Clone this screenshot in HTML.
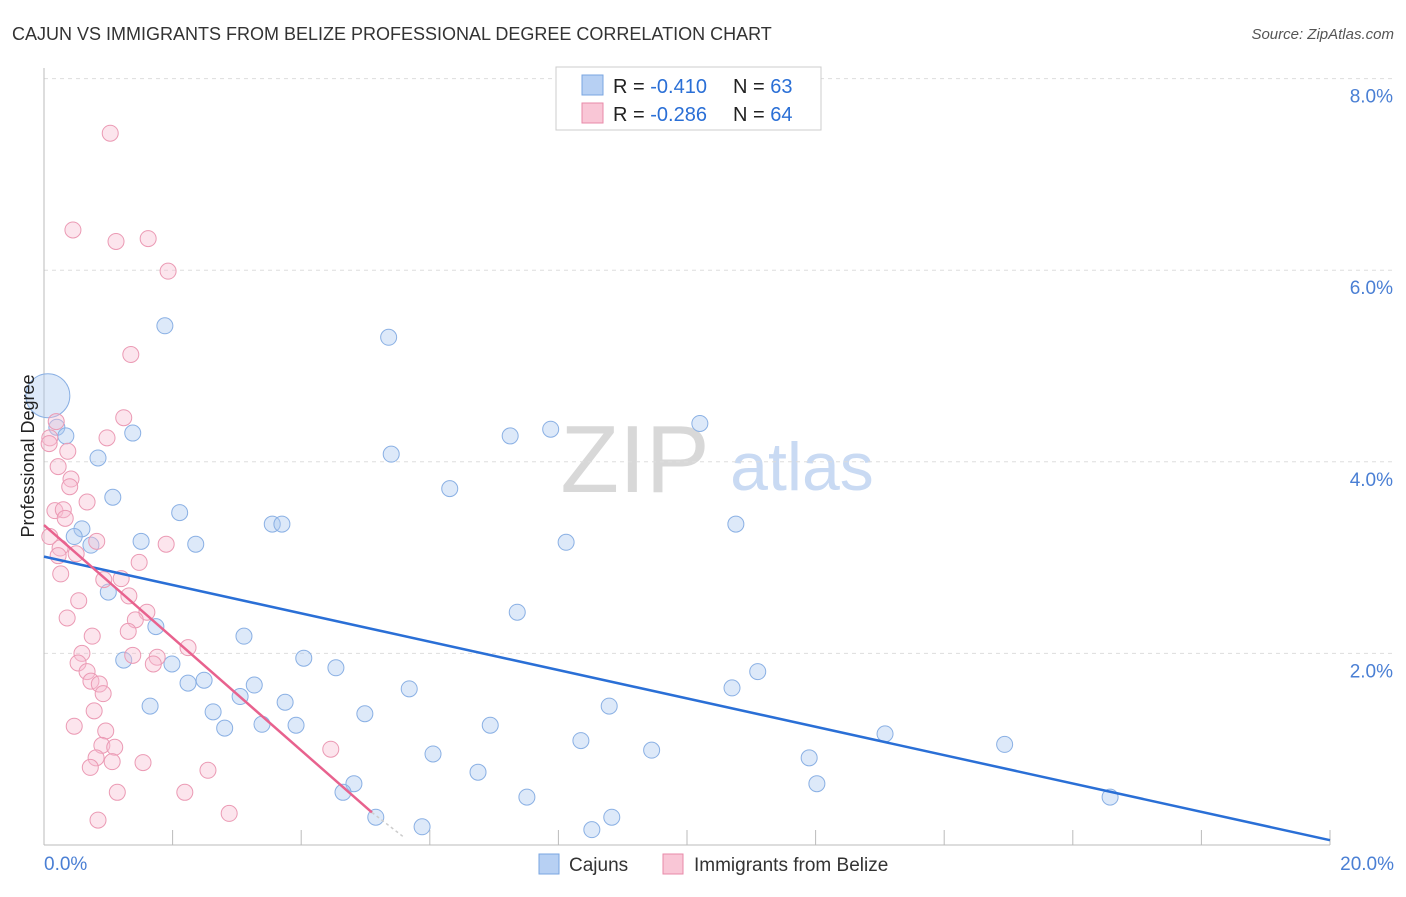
<!DOCTYPE html>
<html><head><meta charset="utf-8"><style>
body{margin:0;background:#fff;font-family:"Liberation Sans",sans-serif}
svg text{font-family:"Liberation Sans",sans-serif}
</style></head><body>
<svg id="chart" width="1406" height="892" xmlns="http://www.w3.org/2000/svg">
<text x="12" y="40" font-size="18" fill="#333">CAJUN VS IMMIGRANTS FROM BELIZE PROFESSIONAL DEGREE CORRELATION CHART</text>
<text x="1394" y="39" font-size="15" fill="#555" text-anchor="end" font-style="italic">Source: ZipAtlas.com</text>
<g>
<text x="635" y="492" font-size="96" font-family="Liberation Serif" fill="#d8d8d8" text-anchor="middle">ZIP</text>
<text x="802" y="490" font-size="68" fill="#c9daf3" text-anchor="middle">atlas</text>
</g>
<g id="grid"></g><g id="marks"></g>
<text x="0" y="0" transform="translate(34,456) rotate(-90)" font-size="18" fill="#222" text-anchor="middle">Professional Degree</text>
<g>
<rect x="556" y="67" width="265" height="63" fill="#fff" stroke="#ccc"/>
<rect x="582" y="75" width="21" height="20" fill="#b7d0f3" stroke="#7aa6e0"/>
<rect x="582" y="103" width="21" height="20" fill="#f9c6d6" stroke="#e88aa8"/>
<text x="613" y="93" font-size="20" fill="#222">R = <tspan fill="#2a6fd6">-0.410</tspan></text>
<text x="733" y="93" font-size="20" fill="#222">N = <tspan fill="#2a6fd6">63</tspan></text>
<text x="613" y="121" font-size="20" fill="#222">R = <tspan fill="#2a6fd6">-0.286</tspan></text>
<text x="733" y="121" font-size="20" fill="#222">N = <tspan fill="#2a6fd6">64</tspan></text>
</g>
<g>
<rect x="539" y="854" width="20" height="20" fill="#b7d0f3" stroke="#7aa6e0"/>
<text x="569" y="871" font-size="19" fill="#333">Cajuns</text>
<rect x="663" y="854" width="20" height="20" fill="#f9c6d6" stroke="#e88aa8"/>
<text x="694" y="871" font-size="19" fill="#333">Immigrants from Belize</text>
</g>
</svg>
<script>
const yTicks=[2,4,6,8];
const xTickLabels=["0.0%","20.0%"];
const cajunX=[0.06,0.2,0.34,0.84,1.38,1.88,1.07,0.59,0.47,0.73,1.51,2.11,2.36,1.0,1.74,1.24,1.99,1.65,2.24,2.49,2.63,2.81,3.05,3.27,3.11,3.39,3.55,3.70,3.75,3.92,4.04,4.54,4.99,5.36,5.40,4.82,4.65,5.16,5.68,5.88,6.05,6.31,6.75,6.94,7.25,7.36,7.51,7.88,8.12,8.35,8.52,8.79,8.83,9.45,10.20,10.70,10.76,11.10,11.90,12.02,13.08,14.94,16.58];
const cajunY=[4.69,4.36,4.27,4.04,4.30,5.42,3.63,3.30,3.22,3.13,3.17,3.47,3.14,2.64,2.28,1.93,1.89,1.45,1.69,1.72,1.39,1.22,1.55,1.67,2.18,1.26,3.35,3.35,1.49,1.25,1.95,1.85,1.37,5.30,4.08,0.64,0.55,0.29,1.63,0.19,0.95,3.72,0.76,1.25,4.27,2.43,0.50,4.34,3.16,1.09,0.16,1.45,0.29,0.99,4.40,1.64,3.35,1.81,0.91,0.64,1.16,1.05,0.50];
const belizeX=[1.03,0.45,1.12,1.62,1.93,1.35,1.24,0.19,0.09,0.08,0.98,0.37,0.22,0.42,0.40,0.67,0.17,0.30,0.33,0.09,0.25,0.82,1.90,0.22,0.50,1.48,0.26,0.93,1.20,1.32,0.54,1.60,0.36,1.42,1.31,0.75,2.24,0.59,1.38,1.76,1.70,0.53,0.67,0.73,0.86,0.92,0.78,0.47,0.96,0.90,1.10,0.81,1.06,0.72,1.54,4.46,2.55,1.14,2.19,2.88,0.84];
const belizeY=[7.43,6.42,6.30,6.33,5.99,5.12,4.46,4.42,4.25,4.19,4.25,4.11,3.95,3.82,3.74,3.58,3.49,3.50,3.41,3.22,3.10,3.17,3.14,3.02,3.04,2.95,2.83,2.77,2.78,2.60,2.55,2.43,2.37,2.35,2.23,2.18,2.06,2.00,1.98,1.96,1.89,1.90,1.81,1.71,1.68,1.58,1.40,1.24,1.19,1.04,1.02,0.91,0.87,0.81,0.86,1.00,0.78,0.55,0.55,0.33,0.26];
const cajunLine=[[0,3.01],[20,0.05]];
const belizeLine=[[0,3.34],[5.1,0.34]];
const belizeDash=[[5.1,0.34],[5.6,0.08]];
const NS="http://www.w3.org/2000/svg";
const sx=v=>44+v/20*1286, sy=v=>845-v*95.8;
function mk(t,a,p){const e=document.createElementNS(NS,t);for(const k in a)e.setAttribute(k,a[k]);p.appendChild(e);return e;}
const grid=document.getElementById('grid'), marks=document.getElementById('marks');
yTicks.forEach(t=>{
 const l=mk('line',{x1:44,x2:1394,y1:sy(t),y2:sy(t),stroke:'#ddd','stroke-dasharray':'4,4'},grid);
 
 
 const tx=mk('text',{x:1393,y:sy(t)+24,'font-size':19,fill:'#4a7fd4','text-anchor':'end'},grid);
 tx.textContent=t.toFixed(1)+'%';
 
 
});
const ax=mk('line',{x1:44,x2:1330,y1:845,y2:845,stroke:'#bbb'},grid);


const ay=mk('line',{x1:44,x2:44,y1:68,y2:845,stroke:'#bbb'},grid);


for(let i=0;i<=20;i+=2){const t=mk('line',{x1:sx(i),x2:sx(i),y1:830,y2:845,stroke:'#bbb'},grid);
 
 }
[[0,44,'start'],[1,1394,'end']].forEach(([i,x,a])=>{const t=mk('text',{x:x,y:870,'font-size':19,fill:'#4a7fd4','text-anchor':a},grid);t.textContent=xTickLabels[i];
 
 });
cajunX.forEach((x,i)=>{const c=mk('circle',{cx:sx(x),cy:sy(cajunY[i]),r:i===0?22:8,fill:'rgba(170,200,240,0.4)',stroke:'#8ab0e4','stroke-width':1},marks);
 
 });
belizeX.forEach((x,i)=>{const c=mk('circle',{cx:sx(x),cy:sy(belizeY[i]),r:8,fill:'rgba(248,190,210,0.4)',stroke:'#eb9ab4','stroke-width':1},marks);
 
 });
const l1=mk('line',{x1:sx(cajunLine[0][0]),y1:sy(cajunLine[0][1]),x2:sx(cajunLine[1][0]),y2:sy(cajunLine[1][1]),stroke:'#2a6fd6','stroke-width':2.5},marks);


const l2=mk('line',{x1:sx(belizeLine[0][0]),y1:sy(belizeLine[0][1]),x2:sx(belizeLine[1][0]),y2:sy(belizeLine[1][1]),stroke:'#e8628e','stroke-width':2.5},marks);


const l3=mk('line',{x1:sx(belizeDash[0][0]),y1:sy(belizeDash[0][1]),x2:sx(belizeDash[1][0]),y2:sy(belizeDash[1][1]),stroke:'#ccc','stroke-width':1.5,'stroke-dasharray':'3,3'},marks);


</script>
</body></html>
